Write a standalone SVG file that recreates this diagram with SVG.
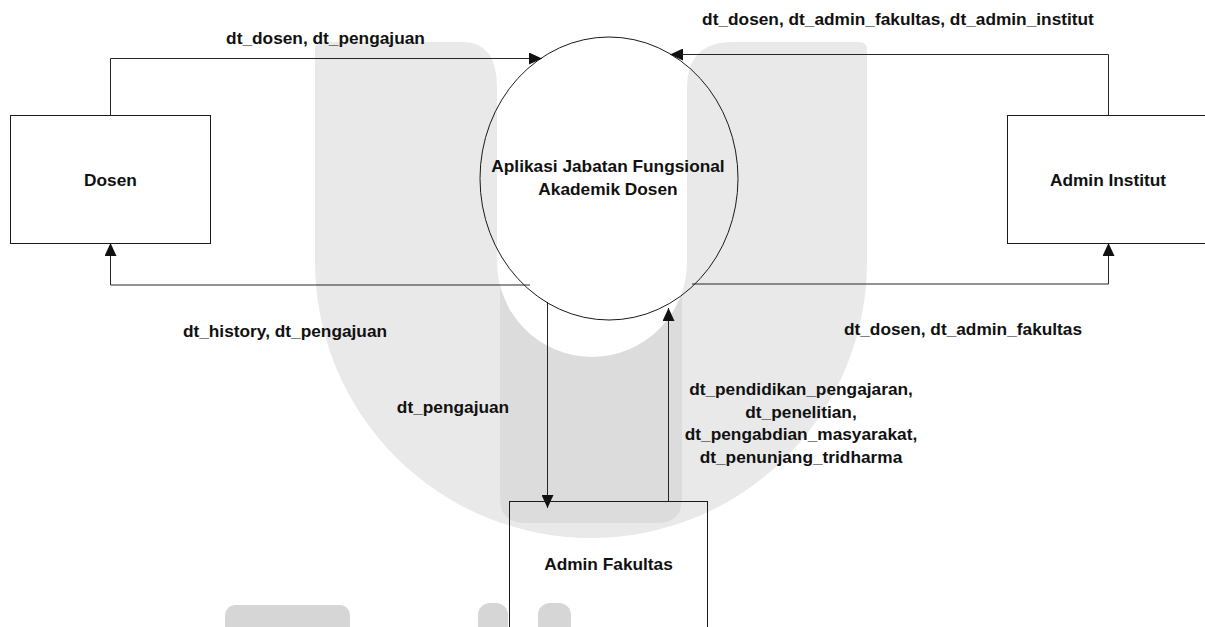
<svg xmlns="http://www.w3.org/2000/svg" width="1205" height="627" viewBox="0 0 1205 627">
  <style>
    .box { fill: none; stroke: #1a1a1a; stroke-width: 1; }
    .proc { fill: none; stroke: #1a1a1a; stroke-width: 1; }
    .flow { fill: none; stroke: #262626; stroke-width: 1; }
    .lbl { font-family: "Liberation Sans", Arial, sans-serif; font-weight: bold; font-size: 17.3px; fill: #111; text-anchor: middle; }
    .wm { fill: #e9e9e9; }
    .wm2 { fill: #dcdcdc; }
    .wm3 { fill: #d6d6d6; }
  </style>
  <defs>
    <marker id="arrow" markerWidth="13" markerHeight="12" refX="13" refY="6" orient="auto" markerUnits="userSpaceOnUse">
      <path d="M0,0 L13,6 L0,12 Z" fill="#111"/>
    </marker>
    <!-- outline of the large U mark, reused as a clip for its darker centre band -->
    <path id="uShape" d="M315,50 Q315,42 323,42 L463,42 Q497,42 497,88 L497,262 A95,95 0 0 0 687,262 L687,88 Q687,42 733,42 L859,42 Q867,42 867,50 L867,262 A276,276 0 0 1 315,262 Z"/>
    <clipPath id="uClip">
      <use href="#uShape"/>
    </clipPath>
  </defs>

  <!-- background mark -->
  <g id="backdrop">
    <use href="#uShape" class="wm"/>
    <path class="wm2" clip-path="url(#uClip)" d="M500,0 L682,0 L682,498 Q682,523 657,523 L525,523 Q500,523 500,498 Z"/>
    <rect class="wm3" x="225" y="605" width="125" height="40" rx="10"/>
    <rect class="wm3" x="478" y="603" width="30" height="40" rx="12"/>
    <rect class="wm3" x="538" y="603" width="33" height="40" rx="12"/>
  </g>

  <!-- data flows -->
  <g id="connectors">
    <polyline class="flow" points="110.5,115 110.5,58.5 542,58.5" marker-end="url(#arrow)"/>
    <polyline class="flow" points="530,285 110.5,285 110.5,243" marker-end="url(#arrow)"/>
    <polyline class="flow" points="1108.5,115 1108.5,54.5 670,54.5" marker-end="url(#arrow)"/>
    <polyline class="flow" points="692,284 1108.5,284 1108.5,243" marker-end="url(#arrow)"/>
    <line class="flow" x1="547.5" y1="302" x2="547.5" y2="508" marker-end="url(#arrow)"/>
    <line class="flow" x1="668.5" y1="501" x2="668.5" y2="308" marker-end="url(#arrow)"/>

    <text class="lbl" x="325.5" y="44">dt_dosen, dt_pengajuan</text>
    <text class="lbl" x="898" y="25">dt_dosen, dt_admin_fakultas, dt_admin_institut</text>
    <text class="lbl" x="285" y="337">dt_history, dt_pengajuan</text>
    <text class="lbl" x="963" y="335">dt_dosen, dt_admin_fakultas</text>
    <text class="lbl" x="453" y="413">dt_pengajuan</text>
    <text class="lbl" x="801" y="395">dt_pendidikan_pengajaran,</text>
    <text class="lbl" x="801" y="417.5">dt_penelitian,</text>
    <text class="lbl" x="801" y="440">dt_pengabdian_masyarakat,</text>
    <text class="lbl" x="801" y="462.5">dt_penunjang_tridharma</text>
  </g>

  <g id="dosen">
    <rect class="box" x="10.5" y="115.5" width="200" height="128"/>
    <text class="lbl" x="110.5" y="186">Dosen</text>
  </g>

  <g id="admin-institut">
    <rect class="box" x="1007.5" y="115.5" width="200" height="128"/>
    <text class="lbl" x="1108" y="186">Admin Institut</text>
  </g>

  <g id="admin-fakultas">
    <rect class="box" x="509.5" y="501.5" width="198" height="140"/>
    <text class="lbl" x="608.5" y="570">Admin Fakultas</text>
  </g>

  <g id="aplikasi">
    <ellipse class="proc" cx="609" cy="178.5" rx="129" ry="141.5"/>
    <text class="lbl" x="608" y="172">Aplikasi Jabatan Fungsional</text>
    <text class="lbl" x="608" y="195">Akademik Dosen</text>
  </g>
</svg>
